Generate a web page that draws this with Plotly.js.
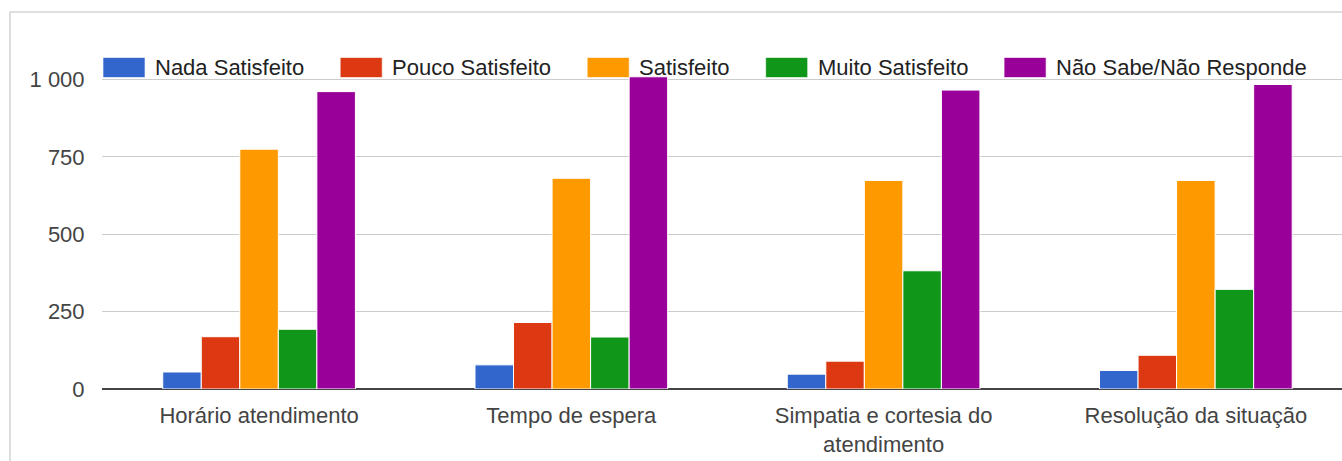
<!DOCTYPE html>
<html>
<head>
<meta charset="utf-8">
<script src="https://cdn.plot.ly/plotly-3.0.1.min.js"></script>
<style>
  html, body { margin: 0; padding: 0; background: #fff; }
  #chart { width: 1342px; height: 461px; }
</style>
</head>
<body>
<div id="chart"></div>
<script>
// Survey answers per service aspect
const categories = [
  'Horário atendimento',
  'Tempo de espera',
  'Simpatia e cortesia do<br>atendimento',
  'Resolução da situação'
];
const seriesNames = [
  'Nada Satisfeito',
  'Pouco Satisfeito',
  'Satisfeito',
  'Muito Satisfeito',
  'Não Sabe/Não Responde'
];
const nadaSatisfeito   = [55, 78, 48, 60];
const poucoSatisfeito  = [169, 215, 90, 109];
const satisfeito       = [775, 681, 674, 674];
const muitoSatisfeito  = [193, 168, 382, 322];
const naoSabe          = [961, 1009, 966, 984];
const yTickValues = [0, 250, 500, 750, 1000];
const yTickLabels = ['0', '250', '500', '750', '1 000'];

const seriesValues = [nadaSatisfeito, poucoSatisfeito, satisfeito, muitoSatisfeito, naoSabe];
const colors = ['#3366cc', '#dc3912', '#ff9900', '#109618', '#990099'];

const W = 1342, H = 461;
const M = { l: 102, r: 0, t: 48, b: 72 };
const plotW = W - M.l - M.r, plotH = H - M.t - M.b;
const px = x => (x - M.l) / plotW;          // pixel -> paper x
const py = y => (H - M.b - y) / plotH;      // pixel -> paper y

const FONT = '"Liberation Sans", Arial, sans-serif';

const traces = seriesValues.map((vals, i) => ({
  type: 'bar',
  name: seriesNames[i],
  x: categories,
  y: vals,
  marker: { color: colors[i], line: { color: '#ffffff', width: 1 } },
  hoverinfo: 'x+y+name'
}));

// Custom legend row with large swatches
const ctx = document.createElement('canvas').getContext('2d');
ctx.font = '22px ' + FONT;
const shapes = [];
const annotations = [];
let cx = 103;
const swTop = 57.5, swBot = 77.5, legendMid = 68;
seriesNames.forEach((name, i) => {
  shapes.push({
    type: 'rect', xref: 'paper', yref: 'paper',
    x0: px(cx), x1: px(cx + 42), y0: py(swBot), y1: py(swTop),
    fillcolor: colors[i], line: { color: 'rgba(255,255,255,0.6)', width: 1 }, layer: 'above'
  });
  const tx = cx + 52;
  annotations.push({
    xref: 'paper', yref: 'paper', x: px(tx - 2), y: py(legendMid),
    xanchor: 'left', yanchor: 'middle', showarrow: false,
    text: name, font: { family: FONT, size: 22, color: '#222222' }
  });
  cx = tx + ctx.measureText(name).width + 36;
});

// Card border (left and top edges)
shapes.push({
  type: 'path', xref: 'paper', yref: 'paper',
  path: `M ${px(10)} ${py(H + 2)} L ${px(10)} ${py(12)} L ${px(W + 2)} ${py(12)}`,
  line: { color: '#bdbdbd', width: 1 }
});

const layout = {
  width: W, height: H,
  margin: M,
  paper_bgcolor: '#ffffff',
  plot_bgcolor: '#ffffff',
  showlegend: false,
  barmode: 'group',
  bargap: 0.383,
  bargroupgap: 0,
  font: { family: FONT, size: 22, color: '#444444' },
  xaxis: {
    type: 'category',
    range: [-0.503, 3.468],
    showgrid: false,
    showline: false,
    zeroline: false,
    ticks: 'outside', ticklen: 7, tickcolor: 'rgba(0,0,0,0)',
    tickfont: { family: FONT, size: 22, color: '#444444' }
  },
  yaxis: {
    range: [0, 1102],
    tickvals: yTickValues,
    ticktext: yTickLabels,
    showgrid: true,
    gridcolor: '#cccccc',
    gridwidth: 1,
    zeroline: true,
    zerolinecolor: '#444444',
    zerolinewidth: 2,
    showline: false,
    ticks: 'outside', ticklen: 12, tickcolor: 'rgba(0,0,0,0)',
    tickfont: { family: FONT, size: 22, color: '#444444' }
  },
  shapes: shapes,
  annotations: annotations
};

Plotly.newPlot('chart', traces, layout, { displayModeBar: false, staticPlot: true });
</script>
</body>
</html>
